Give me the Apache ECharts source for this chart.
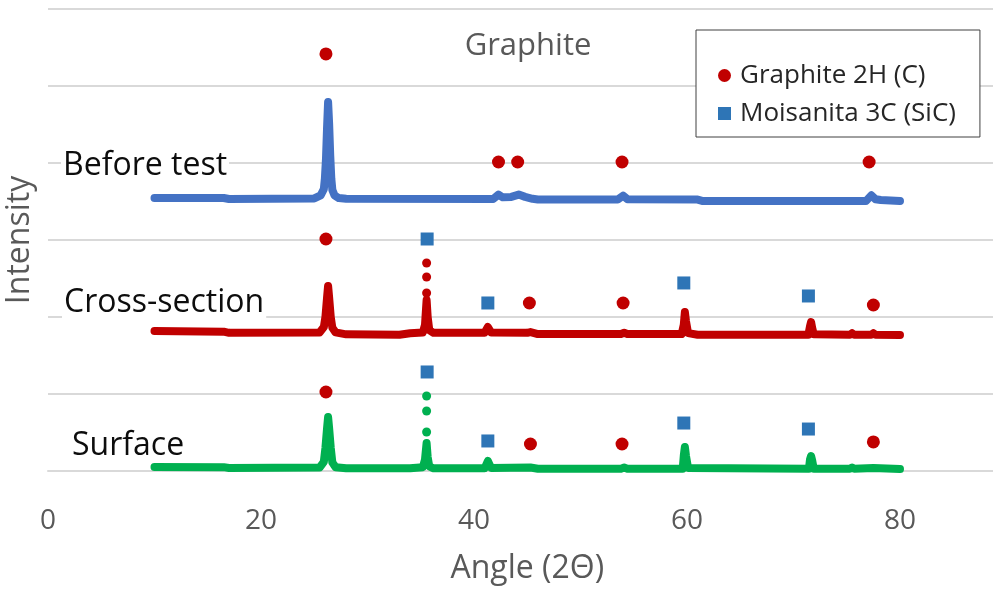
<!DOCTYPE html>
<html>
<head>
<meta charset="utf-8">
<script src="https://cdn.jsdelivr.net/npm/echarts@6/dist/echarts.min.js"></script>
<style>
  html, body { margin: 0; padding: 0; background: #ffffff; }
  #chart { width: 993px; height: 592px; }
</style>
</head>
<body>
<div id="chart"></div>
<script>
// XRD patterns of graphite: before test, cross-section and surface (stacked, offset intensities)
const FONT = '"Open Sans", sans-serif';
const xTicks = [0, 20, 40, 60, 80];
const traceNames = ['Before test', 'Cross-section', 'Surface'];
const traceColors = ['#4472C4', '#C00000', '#00B050'];

// [angle 2θ, intensity] profile points
const beforeTest = [
  [10, 3545], [16.5, 3545], [17, 3532], [25.0, 3540], [25.6, 3580], [25.9, 3660],
  [26.0, 3800], [26.1, 4050], [26.2, 4450], [26.3, 4792], [26.4, 4500], [26.5, 4100],
  [26.6, 3800], [26.7, 3650], [26.9, 3580], [27.3, 3545], [28, 3535], [41.8, 3532],
  [42.3, 3590], [42.7, 3555], [43.5, 3560], [44.2, 3590], [44.8, 3560], [45.5, 3535],
  [46, 3525], [53.5, 3525], [54.0, 3575], [54.4, 3530], [61, 3525], [61.5, 3505],
  [76.8, 3505], [77.3, 3580], [77.7, 3530], [78.2, 3520], [80, 3505]
];
const crossSection = [
  [10, 1818], [16.5, 1810], [17, 1795], [25.5, 1800], [25.9, 1870], [26.05, 2000],
  [26.2, 2250], [26.3, 2403], [26.4, 2250], [26.55, 2000], [26.7, 1860], [27.0, 1800],
  [28, 1775], [33, 1770], [34, 1790], [35.2, 1800], [35.4, 1900], [35.55, 2221],
  [35.65, 2000], [35.8, 1830], [36.2, 1795], [41.0, 1795], [41.3, 1870], [41.6, 1800],
  [45.0, 1795], [45.3, 1805], [46, 1779], [53.8, 1779], [54.1, 1795], [54.4, 1779],
  [59.5, 1779], [59.7, 1900], [59.8, 2065], [59.9, 1950], [60.1, 1790], [61, 1770],
  [71.4, 1770], [71.55, 1880], [71.65, 1935], [71.75, 1860], [71.9, 1775], [75.3, 1770],
  [75.5, 1790], [75.7, 1770], [77.3, 1770], [77.5, 1790], [77.7, 1770], [80, 1766]
];
const crossSectionDots = [[35.55, 2312], [35.55, 2519], [35.55, 2701]];
const surface = [
  [10, 52], [16.5, 50], [17, 39], [25.5, 45], [25.9, 120], [26.05, 300],
  [26.2, 550], [26.3, 701], [26.4, 550], [26.55, 300], [26.7, 110], [27.0, 50],
  [28, 35], [34, 35], [35.2, 50], [35.4, 150], [35.55, 364], [35.65, 180],
  [35.8, 60], [36.2, 35], [41.0, 35], [41.3, 130], [41.6, 40], [45.3, 45],
  [46, 30], [53.8, 30], [54.1, 45], [54.4, 30], [59.6, 30], [59.7, 200],
  [59.8, 312], [59.9, 200], [60.1, 40], [71.45, 30], [71.55, 150], [71.65, 195],
  [71.75, 140], [71.9, 30], [75.3, 30], [75.5, 45], [75.7, 30], [77.5, 40], [80, 26]
];
const surfaceDots = [[35.55, 506], [35.55, 779], [35.55, 974]];

// Phase markers placed above the reflections
const graphite2H = [
  [26.1, 5416],
  [42.3, 4013], [44.1, 4013], [53.9, 4013], [77.1, 4013],
  [26.1, 3013], [45.2, 2182], [54.0, 2182], [77.5, 2156],
  [26.1, 1026], [45.3, 351], [53.9, 351], [77.5, 377]
];
const moissanite3C = [
  [35.6, 3013], [41.3, 2182], [59.7, 2442], [71.4, 2273],
  [35.6, 1286], [41.3, 390], [59.7, 623], [71.4, 545]
];

const chart = echarts.init(document.getElementById('chart'), null, { renderer: 'canvas' });

function traceLine(data, color) {
  return {
    type: 'line', data: data, showSymbol: false, silent: true, z: 2,
    lineStyle: { color: color, width: 8, cap: 'round', join: 'round' },
    itemStyle: { color: color }
  };
}
function traceDots(data, color) {
  return {
    type: 'scatter', data: data, symbol: 'circle', symbolSize: 9, silent: true, z: 2,
    itemStyle: { color: color, opacity: 1 }
  };
}
function traceLabel(text, x, y) {
  return {
    type: 'text', left: x, top: y, z: 1,
    style: {
      text: text, font: '32px ' + FONT, fill: '#0D0D0D',
      backgroundColor: '#ffffff', padding: [0, 2, 0, 2]
    }
  };
}

chart.setOption({
  animation: false,
  backgroundColor: '#ffffff',
  textStyle: { fontFamily: FONT },
  title: {
    text: 'Graphite', left: 523, top: 26, textAlign: 'center',
    textStyle: { fontFamily: FONT, fontSize: 31, fontWeight: 'normal', color: '#595959' }
  },
  legend: {
    left: 696, top: 30, orient: 'vertical',
    padding: [32, 24, 10, 22], itemGap: 11, itemWidth: 13, itemHeight: 13,
    borderColor: '#404040', borderWidth: 1, backgroundColor: '#ffffff',
    selectedMode: false,
    textStyle: { fontFamily: FONT, fontSize: 26, color: '#262626', lineHeight: 27, padding: [0, 0, 0, 4] },
    data: [
      { name: 'Graphite 2H (C)', icon: 'circle' },
      { name: 'Moisanita 3C (SiC)', icon: 'rect' }
    ],
    z: 10
  },
  grid: { left: 48, right: -13.5, top: 9, bottom: 121, containLabel: false, outerBoundsMode: 'none' },
  xAxis: {
    type: 'value', min: 0, max: 90, interval: 20,
    name: 'Angle (2\u0398)', nameLocation: 'middle', nameGap: 82,
    nameTextStyle: { fontFamily: FONT, fontSize: 32, color: '#595959' },
    axisLine: { show: true, lineStyle: { color: '#D9D9D9', width: 2 } },
    axisTick: { show: false },
    splitLine: { show: false },
    axisLabel: {
      margin: 36, fontFamily: FONT, fontSize: 28, color: '#595959',
      showMaxLabel: false,
      formatter: function (v) { return xTicks.indexOf(v) >= 0 ? String(v) : ''; }
    }
  },
  yAxis: {
    type: 'value', min: 0, max: 6000, interval: 1000,
    name: 'Intensity', nameLocation: 'middle', nameGap: 12,
    nameTextStyle: { fontFamily: FONT, fontSize: 32, color: '#595959' },
    axisLine: { show: false }, axisTick: { show: false }, axisLabel: { show: false },
    splitLine: { show: true, lineStyle: { color: '#D9D9D9', width: 2 } }
  },
  graphic: [
    traceLabel(traceNames[0], 61, 150),
    traceLabel(traceNames[1], 62, 287),
    traceLabel(traceNames[2], 70, 430)
  ],
  series: [
    traceLine(beforeTest, traceColors[0]),
    traceLine(crossSection, traceColors[1]),
    traceDots(crossSectionDots, traceColors[1]),
    traceLine(surface, traceColors[2]),
    traceDots(surfaceDots, traceColors[2]),
    {
      name: 'Graphite 2H (C)', type: 'scatter', data: graphite2H,
      symbol: 'circle', symbolSize: 13, silent: true, z: 3,
      itemStyle: { color: '#C00000', opacity: 1 }
    },
    {
      name: 'Moisanita 3C (SiC)', type: 'scatter', data: moissanite3C,
      symbol: 'rect', symbolSize: 13, silent: true, z: 3,
      itemStyle: { color: '#2E75B6', opacity: 1 }
    }
  ]
});
</script>
</body>
</html>
